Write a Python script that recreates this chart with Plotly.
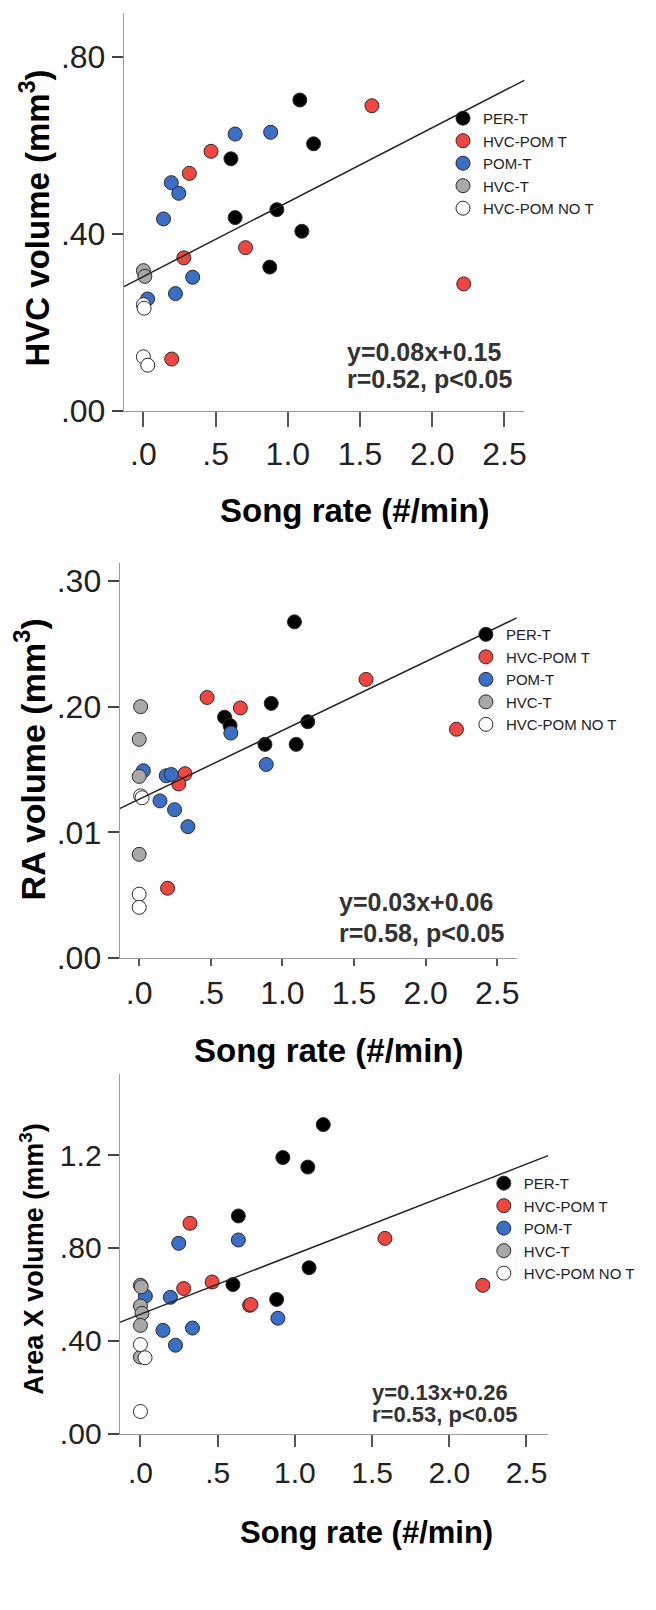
import plotly.graph_objects as go

# ---------------- data ----------------
groups = ["PER-T", "HVC-POM T", "POM-T", "HVC-T", "HVC-POM NO T"]
colors = ["#000000", "#F0463F", "#3A6FC7", "#A8A8A8", "#FFFFFF"]

x_ticks = [0, 0.5, 1.0, 1.5, 2.0, 2.5]
x_ticktext = [".0", ".5", "1.0", "1.5", "2.0", "2.5"]

# Panel 1: HVC volume
hvc_per_x = [1.083, 1.178, 0.606, 0.635, 0.924, 1.097, 0.875]
hvc_per_y = [0.703, 0.604, 0.570, 0.437, 0.455, 0.406, 0.325]
hvc_hp_x = [1.582, 0.468, 0.318, 0.707, 0.280, 2.218, 0.196]
hvc_hp_y = [0.690, 0.587, 0.537, 0.369, 0.346, 0.287, 0.117]
hvc_pom_x = [0.635, 0.881, 0.193, 0.245, 0.139, 0.341, 0.222, 0.029]
hvc_pom_y = [0.626, 0.630, 0.516, 0.492, 0.434, 0.302, 0.265, 0.253]
hvc_hvc_x = [0.0, 0.01]
hvc_hvc_y = [0.317, 0.304]
hvc_not_x = [0.0, 0.005, 0.0, 0.03]
hvc_not_y = [0.240, 0.232, 0.122, 0.103]
hvc_fit_x = [-0.135, 2.64]
hvc_fit_y = [0.281, 0.748]
hvc_yticks = [0, 0.4, 0.8]
hvc_yticktext = [".00", ".40", ".80"]

# Panel 2: RA volume
ra_per_x = [1.084, 0.922, 0.596, 0.634, 1.177, 0.878, 1.096]
ra_per_y = [0.2675, 0.2026, 0.1916, 0.185, 0.188, 0.170, 0.170]
ra_hp_x = [1.584, 0.474, 0.706, 2.215, 0.320, 0.276, 0.198]
ra_hp_y = [0.2217, 0.2073, 0.199, 0.182, 0.1466, 0.1385, 0.0555]
ra_pom_x = [0.640, 0.887, 0.029, 0.189, 0.224, 0.145, 0.247, 0.340]
ra_pom_y = [0.179, 0.154, 0.149, 0.145, 0.146, 0.125, 0.118, 0.1045]
ra_hvc_x = [0.01, 0.0, 0.0, 0.0]
ra_hvc_y = [0.200, 0.174, 0.1445, 0.0825]
ra_not_x = [0.01, 0.02, 0.0, 0.0]
ra_not_y = [0.129, 0.1275, 0.0508, 0.0403]
ra_fit_x = [-0.137, 2.637]
ra_fit_y = [0.1188, 0.2707]
ra_yticks = [0, 0.1, 0.2, 0.3]
ra_yticktext = [".00", ".01", ".20", ".30"]

# Panel 3: Area X volume
ax_per_x = [1.184, 0.922, 1.084, 0.634, 1.092, 0.599, 0.882]
ax_per_y = [1.331, 1.189, 1.148, 0.9375, 0.7145, 0.642, 0.578]
ax_hp_x = [0.321, 1.583, 0.464, 0.280, 0.707, 0.715, 2.217]
ax_hp_y = [0.906, 0.841, 0.653, 0.625, 0.5526, 0.556, 0.639]
ax_pom_x = [0.248, 0.634, 0.032, 0.194, 0.890, 0.146, 0.337, 0.227]
ax_pom_y = [0.8196, 0.834, 0.592, 0.587, 0.497, 0.4446, 0.4545, 0.3807]
ax_hvc_x = [0.0, 0.005, 0.0, 0.01, 0.0, 0.0]
ax_hvc_y = [0.639, 0.632, 0.5497, 0.518, 0.466, 0.3295]
ax_not_x = [0.0, 0.03, 0.0]
ax_not_y = [0.3835, 0.3267, 0.095]
ax_fit_x = [-0.135, 2.640]
ax_fit_y = [0.479, 1.1974]
ax_yticks = [0, 0.4, 0.8, 1.2]
ax_yticktext = [".00", ".40", ".80", "1.2"]

# ---------------- layout helpers ----------------
W, H = 656, 1610
FONT = "Liberation Sans, Arial, sans-serif"


def px(x):
    return x / W


def py(y):
    return 1 - y / H


panels = [
    dict(series=[(hvc_per_x, hvc_per_y), (hvc_hp_x, hvc_hp_y), (hvc_pom_x, hvc_pom_y),
                 (hvc_hvc_x, hvc_hvc_y), (hvc_not_x, hvc_not_y)],
         fit=(hvc_fit_x, hvc_fit_y), yt=(hvc_yticks, hvc_yticktext),
         xl=116.3, xr=518.8, yb=407.3, yt_px=5, yrange=[0, 0.90], xrange=[-0.136, 2.638],
         ticklen=15, leg=(437, 95), legfont=15,
         ytitle="HVC volume (mm<sup>3</sup>)", ytpos=(27, 212), ytsize=33,
         xtitle_pos=(349, 508), xtsize=33,
         eq=("y=0.08x+0.15", "r=0.52, p<0.05"), eqpos=(339, 348, 375), eqsize=25,
         tickfont=32),
    dict(series=[(ra_per_x, ra_per_y), (ra_hp_x, ra_hp_y), (ra_pom_x, ra_pom_y),
                 (ra_hvc_x, ra_hvc_y), (ra_not_x, ra_not_y)],
         fit=(ra_fit_x, ra_fit_y), yt=(ra_yticks, ra_yticktext),
         xl=112.1, xr=511.2, yb=960.7, yt_px=561.7, yrange=[0, 0.314], xrange=[-0.137, 2.637],
         ticklen=7, leg=(460, 617), legfont=15,
         ytitle="RA volume (mm<sup>3</sup>)", ytpos=(22, 760), ytsize=34,
         xtitle_pos=(322, 1054), xtsize=33,
         eq=("y=0.03x+0.06", "r=0.58, p<0.05"), eqpos=(331, 904, 935), eqsize=25,
         tickfont=32),
    dict(series=[(ax_per_x, ax_per_y), (ax_hp_x, ax_hp_y), (ax_pom_x, ax_pom_y),
                 (ax_hvc_x, ax_hvc_y), (ax_not_x, ax_not_y)],
         fit=(ax_fit_x, ax_fit_y), yt=(ax_yticks, ax_yticktext),
         xl=112.1, xr=542.6, yb=1441.7, yt_px=1078.3, yrange=[0, 1.548], xrange=[-0.135, 2.640],
         ticklen=12, leg=(478, 1172), legfont=15,
         ytitle="Area X volume (mm<sup>3</sup>)", ytpos=(24, 1265), ytsize=27,
         xtitle_pos=(360, 1542), xtsize=31,
         eq=("y=0.13x+0.26", "r=0.53, p<0.05"), eqpos=(364, 1400, 1422), eqsize=22,
         tickfont=30),
]

fig = go.Figure()
layout = dict(width=W, height=H, margin=dict(l=0, r=0, t=0, b=0),
              paper_bgcolor="white", plot_bgcolor="white", showlegend=True)
annotations = []

for i, p in enumerate(panels, start=1):
    sfx = "" if i == 1 else str(i)
    xa, ya = "x" + sfx, "y" + sfx
    leg = "legend" + sfx
    for (sx, sy), name, col in zip(p["series"], groups, colors):
        fig.add_trace(go.Scatter(
            x=sx, y=sy, mode="markers", name=name, xaxis=xa, yaxis=ya, legend=leg,
            marker=dict(size=14, color=col, line=dict(color="#2a2a2a", width=1)),
            cliponaxis=False))
    fig.add_trace(go.Scatter(
        x=p["fit"][0], y=p["fit"][1], mode="lines", xaxis=xa, yaxis=ya,
        line=dict(color="#222222", width=1.5), showlegend=False, hoverinfo="skip"))

    xdom = [px(p["xl"]), px(p["xr"])]
    ydom = [py(p["yb"]), py(p["yt_px"])]
    layout["xaxis" + sfx] = dict(
        domain=xdom, anchor=ya, range=p["xrange"], showline=True, linecolor="#9a9a9a",
        linewidth=1, ticks="outside", ticklen=p["ticklen"], tickwidth=2,
        tickcolor="#555555", tickvals=x_ticks, ticktext=x_ticktext,
        showgrid=False, zeroline=False,
        tickfont=dict(family=FONT, size=p["tickfont"], color="#222222"))
    layout["yaxis" + sfx] = dict(
        domain=ydom, anchor=xa, range=p["yrange"], showline=True, linecolor="#9a9a9a",
        linewidth=1, ticks="outside", ticklen=11, tickwidth=2, tickcolor="#444444",
        tickvals=p["yt"][0], ticktext=p["yt"][1], showgrid=False, zeroline=False,
        tickfont=dict(family=FONT, size=p["tickfont"], color="#222222"))
    layout[leg] = dict(
        x=px(p["leg"][0]), y=py(p["leg"][1]), xanchor="left", yanchor="top",
        bgcolor="rgba(0,0,0,0)", font=dict(family=FONT, size=p["legfont"], color="#222222"),
        itemclick=False, itemdoubleclick=False, tracegroupgap=0)

    annotations.append(dict(
        text=f"<b>{p['ytitle']}</b>", xref="paper", yref="paper",
        x=px(p["ytpos"][0]), y=py(p["ytpos"][1]), textangle=-90, showarrow=False,
        xanchor="center", yanchor="middle",
        font=dict(family=FONT, size=p["ytsize"], color="#000000")))
    annotations.append(dict(
        text="<b>Song rate (#/min)</b>", xref="paper", yref="paper",
        x=px(p["xtitle_pos"][0]), y=py(p["xtitle_pos"][1]), showarrow=False,
        xanchor="center", yanchor="middle",
        font=dict(family=FONT, size=p["xtsize"], color="#000000")))
    for txt, yy in zip(p["eq"], p["eqpos"][1:]):
        annotations.append(dict(
            text=f"<b>{txt}</b>", xref="paper", yref="paper",
            x=px(p["eqpos"][0]), y=py(yy), showarrow=False,
            xanchor="left", yanchor="middle",
            font=dict(family=FONT, size=p["eqsize"], color="#333333")))

layout["annotations"] = annotations
fig.update_layout(**layout)
fig.write_html("out.html")
